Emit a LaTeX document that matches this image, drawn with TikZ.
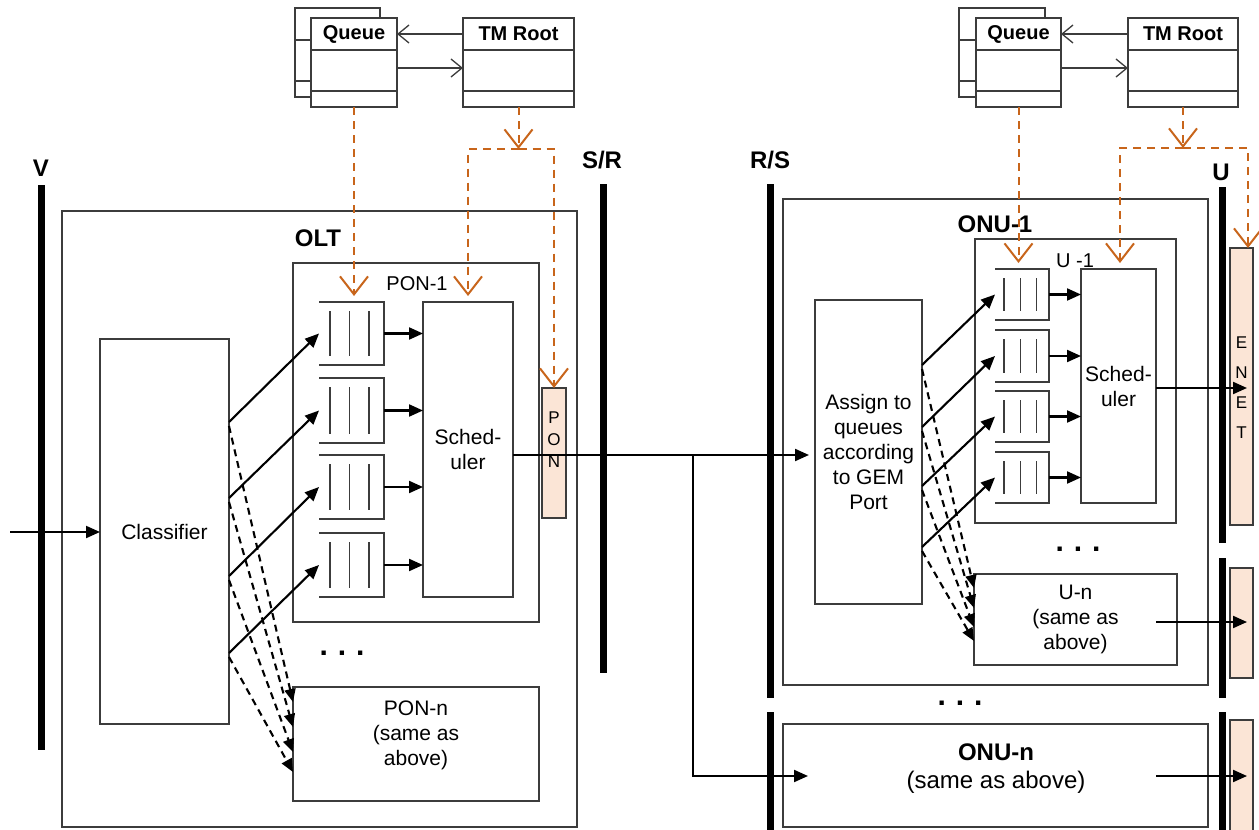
\documentclass[tikz,border=0pt]{standalone}
\usepackage{fontspec}
\setmainfont{Liberation Sans}
\usetikzlibrary{arrows.meta,calc}
\definecolor{boxc}{HTML}{3C3C3C}
\definecolor{orng}{HTML}{C8651B}
\definecolor{peach}{HTML}{FBE5D6}
\newcommand\qbx[5]{%
  \node[qn,minimum width=#4pt,minimum height=#5pt] (#1) at (#2,#3) {};
  \draw[boxline] (#1.north west) -- (#1.north east) -- (#1.south east) -- (#1.south west);
  \foreach \ff in {0.17,0.47,0.77}{%
    \draw[boxline] ($(#1.north west)!\ff!(#1.north east)+(0,9)$) -- ($(#1.south west)!\ff!(#1.south east)+(0,-9)$);}%
}
\begin{document}
\begin{tikzpicture}[x=1pt,y=-1pt,
  bx/.style={draw=boxc,line width=1.4pt,fill=white,inner sep=0pt,outer sep=0pt,rectangle},
  qn/.style={inner sep=0pt,outer sep=0pt,rectangle},
  boxline/.style={draw=boxc,line width=1.4pt},
  port/.style={draw=boxc,line width=1.2pt,fill=peach,inner sep=0pt,outer sep=0pt,rectangle},
  bar/.style={line width=7pt},
  arr/.style={line width=2.1pt,-{Triangle[length=14pt,width=12pt]}},
  darr/.style={line width=2.1pt,dash pattern=on 7pt off 5pt,-{Triangle[length=13pt,width=11pt]}},
  uarr/.style={draw=boxc,line width=1.3pt,-{Straight Barb[length=11pt,width=18pt]}},
  odash/.style={draw=orng,line width=2pt,dash pattern=on 8pt off 6pt},
  oarr/.style={odash,-{Straight Barb[length=18pt,width=28pt]}},
  t/.style={font=\fontsize{21}{25}\selectfont,align=center,inner sep=0pt},
  tb/.style={font=\fontsize{24}{28}\selectfont\bfseries,align=center,inner sep=0pt},
  hdr/.style={font=\fontsize{20}{24}\selectfont\bfseries,inner sep=0pt},
  lbl/.style={font=\fontsize{20}{24}\selectfont,inner sep=0pt},
  lt/.style={font=\fontsize{17}{22}\selectfont,align=center,inner sep=0pt},
  dots/.style={font=\fontsize{30}{30}\selectfont\bfseries,inner sep=0pt,anchor=base}
]
\useasboundingbox (0,0) rectangle (1259,830);

% ---------- UML groups ----------
\node[bx,minimum width=85pt,minimum height=89pt] (qLb) at (337.5,52.5) {};
\node[bx,minimum width=86pt,minimum height=89pt] (qL) at (354,62.5) {};
\node[bx,minimum width=111pt,minimum height=89pt] (tmL) at (518.5,62.5) {};
\draw[boxline] (qLb.west |- 0,40) -- (qL.west |- 0,40);
\draw[boxline] (qLb.west |- 0,81) -- (qL.west |- 0,81);
\foreach \yy in {50,91}{
  \draw[boxline] (qL.west |- 0,\yy) -- (qL.east |- 0,\yy);
  \draw[boxline] (tmL.west |- 0,\yy) -- (tmL.east |- 0,\yy);}
\node[hdr] (qLt) at (354,34) {Queue};
\node[hdr] (tmLt) at (518.5,34) {TM Root};
\draw[uarr] (tmL.west |- 0,34) -- (qL.east |- 0,34);
\draw[uarr] (qL.east |- 0,68) -- (tmL.west |- 0,68);

\node[bx,minimum width=86pt,minimum height=89pt] (qRb) at (1002,52.5) {};
\node[bx,minimum width=85pt,minimum height=89pt] (qR) at (1018.5,62.5) {};
\node[bx,minimum width=110pt,minimum height=89pt] (tmR) at (1183,62.5) {};
\draw[boxline] (qRb.west |- 0,40) -- (qR.west |- 0,40);
\draw[boxline] (qRb.west |- 0,81) -- (qR.west |- 0,81);
\foreach \yy in {50,91}{
  \draw[boxline] (qR.west |- 0,\yy) -- (qR.east |- 0,\yy);
  \draw[boxline] (tmR.west |- 0,\yy) -- (tmR.east |- 0,\yy);}
\node[hdr] (qRt) at (1018.5,34) {Queue};
\node[hdr] (tmRt) at (1183,34) {TM Root};
\draw[uarr] (tmR.west |- 0,34) -- (qR.east |- 0,34);
\draw[uarr] (qR.east |- 0,68) -- (tmR.west |- 0,68);

% ---------- reference bars ----------
\draw[bar] (41,185) -- (41,750);
\draw[bar] (603,184) -- (603,673);
\draw[bar] (770,184) -- (770,698);
\draw[bar] (770,712) -- (770,840);
\draw[bar] (1222,187) -- (1222,543);
\draw[bar] (1222,558) -- (1222,698);
\draw[bar] (1222,712) -- (1222,840);
\node[tb] (lV) at (41,168) {V};
\node[tb] (lSR) at (602,160) {S/R};
\node[tb] (lRS) at (770,160) {R/S};
\node[tb] (lU) at (1221,172) {U};

% ---------- OLT ----------
\node[bx,minimum width=515pt,minimum height=616pt] (olt) at (319.5,519) {};
\node[tb] (oltt) at (318,238) {OLT};
\node[bx,minimum width=246pt,minimum height=359pt] (pon1) at (416,442.5) {};
\node[lbl] (pon1t) at (417,284) {PON-1};
\node[bx,minimum width=90pt,minimum height=295pt,t] (sch1) at (468,449.5) {Sched-\\uler};
\qbx{oq1}{351.5}{333.5}{65}{63}
\qbx{oq2}{351.5}{410.5}{65}{65}
\qbx{oq3}{351.5}{487}{65}{64}
\qbx{oq4}{351.5}{565}{65}{64}
\node[bx,minimum width=129pt,minimum height=385pt,t] (cls) at (164.5,531.5) {Classifier};
\node[bx,minimum width=246pt,minimum height=114pt] (ponn) at (416,744) {};
\node[t] (ponnt) at (416,735) {PON-n\\(same as\\above)};
\node[port,minimum width=24pt,minimum height=130pt] (port1) at (554,453) {};
\node[lt] (port1t) at (554,440) {P\\O\\N};
\node[dots] (dotA) at (342,655) {.\hspace{10pt}.\hspace{10pt}.};

% ---------- ONU ----------
\node[bx,minimum width=425pt,minimum height=486pt] (onu1) at (995.5,442) {};
\node[tb] (onu1t) at (995,224) {ONU-1};
\node[bx,minimum width=201pt,minimum height=284pt] (u1) at (1075.5,381) {};
\node[lbl] (u1t) at (1075,261) {U -1};
\node[bx,minimum width=107pt,minimum height=304pt,t] (asg) at (868.5,452) {Assign to\\queues\\according\\to GEM\\Port};
\qbx{uq1}{1022}{294.5}{54}{51}
\qbx{uq2}{1022}{356}{54}{52}
\qbx{uq3}{1022}{416.5}{54}{51}
\qbx{uq4}{1022}{477.5}{54}{51}
\node[bx,minimum width=75pt,minimum height=234pt,t] (sch2) at (1118.5,386) {Sched-\\uler};
\node[bx,minimum width=203pt,minimum height=91pt,t] (un) at (1075.5,619.5) {U-n\\(same as\\above)};
\node[dots] (dotB) at (1078,551) {.\hspace{10pt}.\hspace{10pt}.};
\node[dots] (dotC) at (960,705) {.\hspace{10pt}.\hspace{10pt}.};
\node[bx,minimum width=425pt,minimum height=103pt] (onun) at (995.5,775.5) {};
\node[font=\fontsize{24}{28}\selectfont\bfseries,inner sep=0pt] (onunt1) at (996,752) {ONU-n};
\node[font=\fontsize{24}{28}\selectfont,inner sep=0pt] (onunt2) at (996,782) {(same as above)};
\node[port,minimum width=23pt,minimum height=277pt] (enet) at (1241.5,386.5) {};
\node[lt,font=\fontsize{17}{30}\selectfont] (enett) at (1241.5,388) {E\\N\\E\\T};
\node[port,minimum width=23pt,minimum height=110pt] (port2) at (1241.5,623) {};
\node[port,minimum width=23pt,minimum height=120pt] (port3) at (1241.5,780) {};

% ---------- OLT connectors ----------
\coordinate (inp) at (10,532);
\draw[arr] (inp) -- (cls.west |- inp);
\foreach \q/\yy in {oq1/422,oq2/498,oq3/576,oq4/653}{
  \draw[arr] (cls.east |- 0,\yy) -- (\q.west);
  \draw[arr] (\q.east) -- (sch1.west |- \q.east);}
\foreach \ya/\yb in {426/702,502/727,580/752,657/772}{
  \draw[darr] (cls.east |- 0,\ya) -- (ponn.west |- 0,\yb);}

% ---------- main link ----------
\coordinate (br) at (693,455);
\coordinate (onunin) at (808,776);
\draw[line width=2.1pt] (sch1.east |- br) -- (br);
\draw[arr] (br) -- ($(asg.west |- br)+(-6,0)$);
\draw[arr] (br) |- (onunin);

% ---------- ONU connectors ----------
\foreach \q/\yy in {uq1/365,uq2/427,uq3/486,uq4/547}{
  \draw[arr] (asg.east |- 0,\yy) -- (\q.west);
  \draw[arr] (\q.east) -- (sch2.west |- \q.east);}
\foreach \ya/\yb in {369/588,431/608,490/627,551/641}{
  \draw[darr] (asg.east |- 0,\ya) -- (un.west |- 0,\yb);}
\draw[arr] (sch2.east |- 0,388) -- ($(enet.east |- 0,388)+(-6,0)$);
\coordinate (unout) at (1156,622);
\draw[arr] (unout) -- ($(port2.east |- unout)+(-6,0)$);
\coordinate (onunout) at (1156,776);
\draw[arr] (onunout) -- ($(port3.east |- onunout)+(-6,0)$);

% ---------- orange TM mapping ----------
\draw[oarr] (qL.south) -- ($(oq1.north -| qL.south)+(0,-6)$);
\coordinate (jL) at (518.5,149);
\draw[oarr] (tmL.south) -- (jL);
\draw[oarr] (jL) -| ($(sch1.north)+(0,-6)$);
\draw[oarr] (jL) -| (port1.north);
\draw[oarr] (qR.south) -- ($(uq1.north -| qR.south)+(0,-6)$);
\coordinate (jR) at (1183,148);
\draw[oarr] (tmR.south) -- (jR);
\draw[oarr] (jR) -| ($(sch2.north)+(1.5,-6)$);
\draw[oarr] (jR) -| ($(enet.north east)+(-5,0)$);
\end{tikzpicture}
\end{document}
